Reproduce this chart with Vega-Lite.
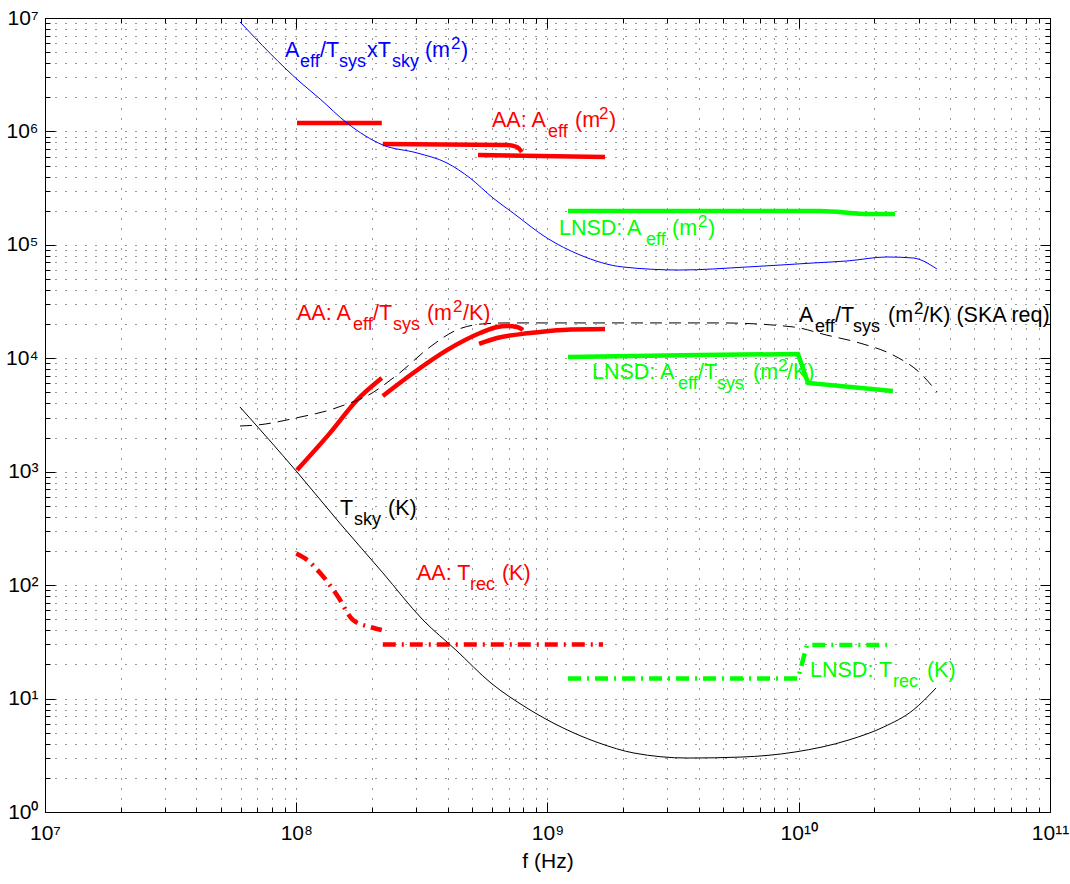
{
  "$schema": "https://vega.github.io/schema/vega-lite/v6.json",
  "width": 1005,
  "height": 794,
  "autosize": {"type": "none"},
  "padding": {"left": 45, "top": 18, "right": 20, "bottom": 72},
  "background": "white",
  "config": {"view": {"stroke": "black", "strokeWidth": 1}, "font": "Liberation Sans"},
  "datasets": {
    "lines": [
      {"curve": "Aeff/Tsys×Tsky", "seg": "b", "f": 5.97e7, "v": 9.23e6},
      {"curve": "Aeff/Tsys×Tsky", "seg": "b", "f": 1.035e8, "v": 2.73e6},
      {"curve": "Aeff/Tsys×Tsky", "seg": "b", "f": 1.245e8, "v": 1.93e6},
      {"curve": "Aeff/Tsys×Tsky", "seg": "b", "f": 1.592e8, "v": 1.186e6},
      {"curve": "Aeff/Tsys×Tsky", "seg": "b", "f": 2.213e8, "v": 7.59e5},
      {"curve": "Aeff/Tsys×Tsky", "seg": "b", "f": 3.027e8, "v": 6.46e5},
      {"curve": "Aeff/Tsys×Tsky", "seg": "b", "f": 3.981e8, "v": 5.27e5},
      {"curve": "Aeff/Tsys×Tsky", "seg": "b", "f": 4.92e8, "v": 3.88e5},
      {"curve": "Aeff/Tsys×Tsky", "seg": "b", "f": 6.067e8, "v": 2.59e5},
      {"curve": "Aeff/Tsys×Tsky", "seg": "b", "f": 7.295e8, "v": 1.91e5},
      {"curve": "Aeff/Tsys×Tsky", "seg": "b", "f": 9.954e8, "v": 1.148e5},
      {"curve": "Aeff/Tsys×Tsky", "seg": "b", "f": 1.346e9, "v": 8.15e4},
      {"curve": "Aeff/Tsys×Tsky", "seg": "b", "f": 1.995e9, "v": 6.38e4},
      {"curve": "Aeff/Tsys×Tsky", "seg": "b", "f": 3.365e9, "v": 6.0e4},
      {"curve": "Aeff/Tsys×Tsky", "seg": "b", "f": 6.223e9, "v": 6.38e4},
      {"curve": "Aeff/Tsys×Tsky", "seg": "b", "f": 1.14e10, "v": 6.92e4},
      {"curve": "Aeff/Tsys×Tsky", "seg": "b", "f": 1.556e10, "v": 7.21e4},
      {"curve": "Aeff/Tsys×Tsky", "seg": "b", "f": 2.244e10, "v": 7.82e4},
      {"curve": "Aeff/Tsys×Tsky", "seg": "b", "f": 2.851e10, "v": 7.66e4},
      {"curve": "Aeff/Tsys×Tsky", "seg": "b", "f": 3.548e10, "v": 6.12e4},

      {"curve": "Tsky", "seg": "t", "f": 5.97e7, "v": 3720},
      {"curve": "Tsky", "seg": "t", "f": 1.007e8, "v": 995},
      {"curve": "Tsky", "seg": "t", "f": 1.5e8, "v": 346},
      {"curve": "Tsky", "seg": "t", "f": 2.2e8, "v": 130},
      {"curve": "Tsky", "seg": "t", "f": 3.195e8, "v": 49.3},
      {"curve": "Tsky", "seg": "t", "f": 4.32e8, "v": 26.8},
      {"curve": "Tsky", "seg": "t", "f": 5.96e8, "v": 13.7},
      {"curve": "Tsky", "seg": "t", "f": 8.28e8, "v": 8.26},
      {"curve": "Tsky", "seg": "t", "f": 1.153e9, "v": 5.51},
      {"curve": "Tsky", "seg": "t", "f": 1.603e9, "v": 4.06},
      {"curve": "Tsky", "seg": "t", "f": 2.21e9, "v": 3.31},
      {"curve": "Tsky", "seg": "t", "f": 3.62e9, "v": 2.99},
      {"curve": "Tsky", "seg": "t", "f": 5.89e9, "v": 3.05},
      {"curve": "Tsky", "seg": "t", "f": 9.66e9, "v": 3.38},
      {"curve": "Tsky", "seg": "t", "f": 1.585e10, "v": 4.32},
      {"curve": "Tsky", "seg": "t", "f": 2.18e10, "v": 5.62},
      {"curve": "Tsky", "seg": "t", "f": 2.85e10, "v": 7.9},
      {"curve": "Tsky", "seg": "t", "f": 3.52e10, "v": 12.4},

      {"curve": "SKA", "seg": "s", "f": 5.97e7, "v": 2530},
      {"curve": "SKA", "seg": "s", "f": 6.98e7, "v": 2580},
      {"curve": "SKA", "seg": "s", "f": 1.035e8, "v": 3030},
      {"curve": "SKA", "seg": "s", "f": 1.36e8, "v": 3500},
      {"curve": "SKA", "seg": "s", "f": 1.636e8, "v": 4040},
      {"curve": "SKA", "seg": "s", "f": 1.845e8, "v": 4470},
      {"curve": "SKA", "seg": "s", "f": 2.52e8, "v": 7130},
      {"curve": "SKA", "seg": "s", "f": 3.41e8, "v": 12600},
      {"curve": "SKA", "seg": "s", "f": 4.36e8, "v": 17800},
      {"curve": "SKA", "seg": "s", "f": 5.53e8, "v": 20100},
      {"curve": "SKA", "seg": "s", "f": 6.9e8, "v": 20500},
      {"curve": "SKA", "seg": "s", "f": 4.86e9, "v": 20500},
      {"curve": "SKA", "seg": "s", "f": 9.49e9, "v": 18900},
      {"curve": "SKA", "seg": "s", "f": 1.294e10, "v": 16000},
      {"curve": "SKA", "seg": "s", "f": 1.754e10, "v": 13600},
      {"curve": "SKA", "seg": "s", "f": 2.37e10, "v": 10700},
      {"curve": "SKA", "seg": "s", "f": 3.04e10, "v": 7420},
      {"curve": "SKA", "seg": "s", "f": 3.55e10, "v": 5050},

      {"curve": "AA Aeff", "seg": "a1", "f": 1.007e8, "v": 1.186e6},
      {"curve": "AA Aeff", "seg": "a1", "f": 2.19e8, "v": 1.186e6},
      {"curve": "AA Aeff", "seg": "a2", "f": 2.21e8, "v": 7.74e5},
      {"curve": "AA Aeff", "seg": "a2", "f": 6.9e8, "v": 7.59e5},
      {"curve": "AA Aeff", "seg": "a2", "f": 7.56e8, "v": 7.29e5},
      {"curve": "AA Aeff", "seg": "a2", "f": 7.9e8, "v": 6.59e5},
      {"curve": "AA Aeff", "seg": "a3", "f": 5.29e8, "v": 6.2e5},
      {"curve": "AA Aeff", "seg": "a3", "f": 1.694e9, "v": 5.96e5},

      {"curve": "LNSD Aeff", "seg": "l1", "f": 1.207e9, "v": 1.99e5},
      {"curve": "LNSD Aeff", "seg": "l1", "f": 1.216e10, "v": 1.99e5},
      {"curve": "LNSD Aeff", "seg": "l1", "f": 1.92e10, "v": 1.87e5},
      {"curve": "LNSD Aeff", "seg": "l1", "f": 2.415e10, "v": 1.87e5},

      {"curve": "AA Aeff/Tsys", "seg": "b1", "f": 1.007e8, "v": 1035},
      {"curve": "AA Aeff/Tsys", "seg": "b1", "f": 1.361e8, "v": 2190},
      {"curve": "AA Aeff/Tsys", "seg": "b1", "f": 1.746e8, "v": 4290},
      {"curve": "AA Aeff/Tsys", "seg": "b1", "f": 2.19e8, "v": 6700},
      {"curve": "AA Aeff/Tsys", "seg": "b2", "f": 2.21e8, "v": 4650},
      {"curve": "AA Aeff/Tsys", "seg": "b2", "f": 2.92e8, "v": 7420},
      {"curve": "AA Aeff/Tsys", "seg": "b2", "f": 3.98e8, "v": 11800},
      {"curve": "AA Aeff/Tsys", "seg": "b2", "f": 5.39e8, "v": 16700},
      {"curve": "AA Aeff/Tsys", "seg": "b2", "f": 6.3e8, "v": 18900},
      {"curve": "AA Aeff/Tsys", "seg": "b2", "f": 6.9e8, "v": 19300},
      {"curve": "AA Aeff/Tsys", "seg": "b2", "f": 7.56e8, "v": 18900},
      {"curve": "AA Aeff/Tsys", "seg": "b2", "f": 7.98e8, "v": 17800},
      {"curve": "AA Aeff/Tsys", "seg": "b3", "f": 5.34e8, "v": 13400},
      {"curve": "AA Aeff/Tsys", "seg": "b3", "f": 6.3e8, "v": 15100},
      {"curve": "AA Aeff/Tsys", "seg": "b3", "f": 8.51e8, "v": 16700},
      {"curve": "AA Aeff/Tsys", "seg": "b3", "f": 1.153e9, "v": 17800},
      {"curve": "AA Aeff/Tsys", "seg": "b3", "f": 1.694e9, "v": 18100},

      {"curve": "LNSD Aeff/Tsys", "seg": "m1", "f": 1.207e9, "v": 10260},
      {"curve": "LNSD Aeff/Tsys", "seg": "m1", "f": 4.05e9, "v": 10700},
      {"curve": "LNSD Aeff/Tsys", "seg": "m1", "f": 9.93e9, "v": 10900},
      {"curve": "LNSD Aeff/Tsys", "seg": "m1", "f": 1.089e10, "v": 6060},
      {"curve": "LNSD Aeff/Tsys", "seg": "m1", "f": 2.37e10, "v": 5150},

      {"curve": "AA Trec", "seg": "r1", "f": 1.0e8, "v": 190},
      {"curve": "AA Trec", "seg": "r1", "f": 1.104e8, "v": 167},
      {"curve": "AA Trec", "seg": "r1", "f": 1.245e8, "v": 128},
      {"curve": "AA Trec", "seg": "r1", "f": 1.452e8, "v": 81.9},
      {"curve": "AA Trec", "seg": "r1", "f": 1.683e8, "v": 49.3},
      {"curve": "AA Trec", "seg": "r1", "f": 1.966e8, "v": 42.8},
      {"curve": "AA Trec", "seg": "r1", "f": 2.19e8, "v": 40.2},
      {"curve": "AA Trec", "seg": "r2", "f": 2.21e8, "v": 30},
      {"curve": "AA Trec", "seg": "r2", "f": 1.663e9, "v": 30},

      {"curve": "LNSD Trec", "seg": "n1", "f": 1.207e9, "v": 15},
      {"curve": "LNSD Trec", "seg": "n1", "f": 9.93e9, "v": 15},
      {"curve": "LNSD Trec", "seg": "n1", "f": 1.078e10, "v": 29.6},
      {"curve": "LNSD Trec", "seg": "n1", "f": 2.244e10, "v": 29.6}
    ],
    "labels": [
      {"curve": "Aeff/Tsys×Tsky", "part": "main", "f": 9.02e7, "v": 4.53e6, "t": "A"},
      {"curve": "Aeff/Tsys×Tsky", "part": "sub", "f": 1.035e8, "v": 4.53e6, "t": "eff"},
      {"curve": "Aeff/Tsys×Tsky", "part": "main", "f": 1.243e8, "v": 4.53e6, "t": "/T"},
      {"curve": "Aeff/Tsys×Tsky", "part": "sub", "f": 1.48e8, "v": 4.53e6, "t": "sys"},
      {"curve": "Aeff/Tsys×Tsky", "part": "main", "f": 1.912e8, "v": 4.53e6, "t": "xT"},
      {"curve": "Aeff/Tsys×Tsky", "part": "sub", "f": 2.405e8, "v": 4.53e6, "t": "sky"},
      {"curve": "Aeff/Tsys×Tsky", "part": "main", "f": 3.253e8, "v": 4.53e6, "t": "(m"},
      {"curve": "Aeff/Tsys×Tsky", "part": "sup", "f": 4.129e8, "v": 4.53e6, "t": "2"},
      {"curve": "Aeff/Tsys×Tsky", "part": "main", "f": 4.527e8, "v": 4.53e6, "t": ")"},

      {"curve": "AA Aeff", "part": "main", "f": 6.015e8, "v": 1.094e6, "t": "AA: A"},
      {"curve": "AA Aeff", "part": "sub", "f": 1.005e9, "v": 1.094e6, "t": "eff"},
      {"curve": "AA Aeff", "part": "main", "f": 1.287e9, "v": 1.094e6, "t": "(m"},
      {"curve": "AA Aeff", "part": "sup", "f": 1.603e9, "v": 1.094e6, "t": "2"},
      {"curve": "AA Aeff", "part": "main", "f": 1.757e9, "v": 1.094e6, "t": ")"},

      {"curve": "LNSD Aeff", "part": "main", "f": 1.111e9, "v": 1.222e5, "t": "LNSD: A"},
      {"curve": "LNSD Aeff", "part": "sub", "f": 2.466e9, "v": 1.222e5, "t": "eff"},
      {"curve": "LNSD Aeff", "part": "main", "f": 3.13e9, "v": 1.222e5, "t": "(m"},
      {"curve": "LNSD Aeff", "part": "sup", "f": 3.972e9, "v": 1.222e5, "t": "2"},
      {"curve": "LNSD Aeff", "part": "main", "f": 4.354e9, "v": 1.222e5, "t": ")"},

      {"curve": "AA Aeff/Tsys", "part": "main", "f": 1.007e8, "v": 21760, "t": "AA: A"},
      {"curve": "AA Aeff/Tsys", "part": "sub", "f": 1.682e8, "v": 21760, "t": "eff"},
      {"curve": "AA Aeff/Tsys", "part": "main", "f": 2.021e8, "v": 21760, "t": "/T"},
      {"curve": "AA Aeff/Tsys", "part": "sub", "f": 2.428e8, "v": 21760, "t": "sys"},
      {"curve": "AA Aeff/Tsys", "part": "main", "f": 3.313e8, "v": 21760, "t": "(m"},
      {"curve": "AA Aeff/Tsys", "part": "sup", "f": 4.206e8, "v": 21760, "t": "2"},
      {"curve": "AA Aeff/Tsys", "part": "main", "f": 4.61e8, "v": 21760, "t": "/K)"},

      {"curve": "SKA", "part": "main", "f": 1.002e10, "v": 20890, "t": "A"},
      {"curve": "SKA", "part": "sub", "f": 1.16e10, "v": 20890, "t": "eff"},
      {"curve": "SKA", "part": "main", "f": 1.394e10, "v": 20890, "t": "/T"},
      {"curve": "SKA", "part": "sub", "f": 1.644e10, "v": 20890, "t": "sys"},
      {"curve": "SKA", "part": "main", "f": 2.266e10, "v": 20890, "t": "(m"},
      {"curve": "SKA", "part": "sup", "f": 2.875e10, "v": 20890, "t": "2"},
      {"curve": "SKA", "part": "main", "f": 3.123e10, "v": 20890, "t": "/K) (SKA req)"},

      {"curve": "LNSD Aeff/Tsys", "part": "main", "f": 1.503e9, "v": 6568, "t": "LNSD: A"},
      {"curve": "LNSD Aeff/Tsys", "part": "sub", "f": 3.307e9, "v": 6568, "t": "eff"},
      {"curve": "LNSD Aeff/Tsys", "part": "main", "f": 3.972e9, "v": 6568, "t": "/T"},
      {"curve": "LNSD Aeff/Tsys", "part": "sub", "f": 4.727e9, "v": 6568, "t": "sys"},
      {"curve": "LNSD Aeff/Tsys", "part": "main", "f": 6.574e9, "v": 6568, "t": "(m"},
      {"curve": "LNSD Aeff/Tsys", "part": "sup", "f": 8.268e9, "v": 6568, "t": "2"},
      {"curve": "LNSD Aeff/Tsys", "part": "main", "f": 8.98e9, "v": 6568, "t": "/K)"},

      {"curve": "Tsky", "part": "main", "f": 1.494e8, "v": 415, "t": "T"},
      {"curve": "Tsky", "part": "sub", "f": 1.698e8, "v": 415, "t": "sky"},
      {"curve": "Tsky", "part": "main", "f": 2.319e8, "v": 415, "t": "(K)"},

      {"curve": "AA Trec", "part": "main", "f": 3.024e8, "v": 111, "t": "AA: T"},
      {"curve": "AA Trec", "part": "sub", "f": 4.914e8, "v": 111, "t": "rec"},
      {"curve": "AA Trec", "part": "main", "f": 6.588e8, "v": 111, "t": "(K)"},

      {"curve": "LNSD Trec", "part": "main", "f": 1.109e10, "v": 15.5, "t": "LNSD: T"},
      {"curve": "LNSD Trec", "part": "sub", "f": 2.372e10, "v": 15.5, "t": "rec"},
      {"curve": "LNSD Trec", "part": "main", "f": 3.238e10, "v": 15.5, "t": "(K)"}
    ]
  },
  "layer": [
    {
      "encoding": {
        "x": {
          "field": "f", "type": "quantitative",
          "scale": {"type": "log", "domain": [1e7, 1e11], "nice": false},
          "axis": {
            "orient": "bottom",
            "values": [1e7,2e7,3e7,4e7,5e7,6e7,7e7,8e7,9e7,1e8,2e8,3e8,4e8,5e8,6e8,7e8,8e8,9e8,1e9,2e9,3e9,4e9,5e9,6e9,7e9,8e9,9e9,1e10,2e10,3e10,4e10,5e10,6e10,7e10,8e10,9e10,1e11],
            "labelExpr": "abs(log(datum.value)/LN10 - round(log(datum.value)/LN10)) < 0.001 ? '10' + ['⁰','¹','²','³','⁴','⁵','⁶','⁷','⁸','⁹','¹⁰','¹¹'][round(log(datum.value)/LN10)] : ''",
            "labelFontSize": 21, "labelColor": "black", "labelFont": "Liberation Sans",
            "labelPadding": 10, "labelOverlap": false, "labelFlush": false, "labelBound": false,
            "ticks": false, "domain": false,
            "grid": true, "gridDash": [1, 9], "gridColor": "#000000", "gridOpacity": 0.8, "gridWidth": 1,
            "title": "f (Hz)", "titleFontSize": 21, "titleFontWeight": "normal", "titleColor": "black",
            "titleFont": "Liberation Sans", "titleY": 55, "titleBaseline": "alphabetic"
          }
        },
        "y": {
          "field": "v", "type": "quantitative",
          "scale": {"type": "log", "domain": [1, 1e7], "nice": false},
          "axis": {
            "orient": "left",
            "values": [1,2,3,4,5,6,7,8,9,10,20,30,40,50,60,70,80,90,100,200,300,400,500,600,700,800,900,1e3,2e3,3e3,4e3,5e3,6e3,7e3,8e3,9e3,1e4,2e4,3e4,4e4,5e4,6e4,7e4,8e4,9e4,1e5,2e5,3e5,4e5,5e5,6e5,7e5,8e5,9e5,1e6,2e6,3e6,4e6,5e6,6e6,7e6,8e6,9e6,1e7],
            "labelExpr": "abs(log(datum.value)/LN10 - round(log(datum.value)/LN10)) < 0.001 ? '10' + ['⁰','¹','²','³','⁴','⁵','⁶','⁷','⁸','⁹','¹⁰','¹¹'][round(log(datum.value)/LN10)] : ''",
            "labelFontSize": 21, "labelColor": "black", "labelFont": "Liberation Sans",
            "labelPadding": 7, "labelOverlap": false, "labelFlush": false, "labelBound": false,
            "ticks": false, "domain": false,
            "grid": true, "gridDash": [1, 9], "gridColor": "#000000", "gridOpacity": 0.8, "gridWidth": 1,
            "title": null
          }
        },
        "color": {
          "field": "curve", "type": "nominal", "legend": null,
          "scale": {
            "domain": ["Aeff/Tsys×Tsky", "Tsky", "SKA", "AA Aeff", "AA Aeff/Tsys", "AA Trec", "LNSD Aeff", "LNSD Aeff/Tsys", "LNSD Trec"],
            "range": ["#0000ff", "#000000", "#000000", "#ff0000", "#ff0000", "#ff0000", "#00ff00", "#00ff00", "#00ff00"]
          }
        }
      },
      "layer": [
        {
          "data": {"name": "lines"},
          "transform": [{"filter": {"field": "curve", "oneOf": ["AA Aeff", "AA Aeff/Tsys", "LNSD Aeff"]}}],
          "mark": {"type": "line", "strokeWidth": 4.5, "strokeCap": "butt", "interpolate": "monotone"},
          "encoding": {"detail": {"field": "seg"}}
        },
        {
          "data": {"name": "lines"},
          "transform": [{"filter": {"field": "curve", "equal": "LNSD Aeff/Tsys"}}],
          "mark": {"type": "line", "strokeWidth": 4.5, "strokeCap": "butt"},
          "encoding": {"detail": {"field": "seg"}}
        },
        {
          "data": {"name": "lines"},
          "transform": [{"filter": {"field": "curve", "equal": "AA Trec"}}],
          "mark": {"type": "line", "strokeWidth": 4.5, "strokeDash": [13, 6, 2, 6], "strokeCap": "butt", "interpolate": "monotone"},
          "encoding": {"detail": {"field": "seg"}}
        },
        {
          "data": {"name": "lines"},
          "transform": [{"filter": {"field": "curve", "equal": "LNSD Trec"}}],
          "mark": {"type": "line", "strokeWidth": 4.5, "strokeDash": [13, 6, 2, 6], "strokeCap": "butt"},
          "encoding": {"detail": {"field": "seg"}}
        },
        {
          "data": {"name": "lines"},
          "transform": [{"filter": {"field": "curve", "oneOf": ["Aeff/Tsys×Tsky", "Tsky"]}}],
          "mark": {"type": "line", "strokeWidth": 1, "interpolate": "monotone"},
          "encoding": {"detail": {"field": "seg"}}
        },
        {
          "data": {"name": "lines"},
          "transform": [{"filter": {"field": "curve", "equal": "SKA"}}],
          "mark": {"type": "line", "strokeWidth": 1, "strokeDash": [12, 7], "interpolate": "monotone"},
          "encoding": {"detail": {"field": "seg"}}
        },
        {
          "data": {"name": "labels"},
          "transform": [{"filter": {"field": "part", "equal": "main"}}],
          "mark": {"type": "text", "align": "left", "baseline": "alphabetic", "fontSize": 21.5, "font": "Liberation Sans"},
          "encoding": {"text": {"field": "t"}}
        },
        {
          "data": {"name": "labels"},
          "transform": [{"filter": {"field": "part", "equal": "sub"}}],
          "mark": {"type": "text", "align": "left", "baseline": "alphabetic", "fontSize": 18, "dy": 10, "font": "Liberation Sans"},
          "encoding": {"text": {"field": "t"}}
        },
        {
          "data": {"name": "labels"},
          "transform": [{"filter": {"field": "part", "equal": "sup"}}],
          "mark": {"type": "text", "align": "left", "baseline": "alphabetic", "fontSize": 17, "dy": -8, "font": "Liberation Sans"},
          "encoding": {"text": {"field": "t"}}
        }
      ]
    },
    {
      "data": {"name": "lines"},
      "mark": {"type": "point", "opacity": 0},
      "encoding": {
        "x": {
          "field": "f", "type": "quantitative",
          "scale": {"type": "log", "domain": [1e7, 1e11], "nice": false},
          "axis": {
            "orient": "bottom",
            "values": [1e7,2e7,3e7,4e7,5e7,6e7,7e7,8e7,9e7,1e8,2e8,3e8,4e8,5e8,6e8,7e8,8e8,9e8,1e9,2e9,3e9,4e9,5e9,6e9,7e9,8e9,9e9,1e10,2e10,3e10,4e10,5e10,6e10,7e10,8e10,9e10,1e11],
            "labels": false, "grid": false, "domain": false, "ticks": true,
            "tickColor": "black", "tickWidth": 1,
            "tickSize": {"condition": {"test": "abs(log(datum.value)/LN10 - round(log(datum.value)/LN10)) < 0.001", "value": -10}, "value": -5},
            "title": null
          }
        },
        "y": {
          "field": "v", "type": "quantitative",
          "scale": {"type": "log", "domain": [1, 1e7], "nice": false},
          "axis": {
            "orient": "left",
            "values": [1,2,3,4,5,6,7,8,9,10,20,30,40,50,60,70,80,90,100,200,300,400,500,600,700,800,900,1e3,2e3,3e3,4e3,5e3,6e3,7e3,8e3,9e3,1e4,2e4,3e4,4e4,5e4,6e4,7e4,8e4,9e4,1e5,2e5,3e5,4e5,5e5,6e5,7e5,8e5,9e5,1e6,2e6,3e6,4e6,5e6,6e6,7e6,8e6,9e6,1e7],
            "labels": false, "grid": false, "domain": false, "ticks": true,
            "tickColor": "black", "tickWidth": 1,
            "tickSize": {"condition": {"test": "abs(log(datum.value)/LN10 - round(log(datum.value)/LN10)) < 0.001", "value": -10}, "value": -5},
            "title": null
          }
        }
      }
    },
    {
      "data": {"name": "lines"},
      "mark": {"type": "point", "opacity": 0},
      "encoding": {
        "x": {
          "field": "f", "type": "quantitative",
          "scale": {"type": "log", "domain": [1e7, 1e11], "nice": false},
          "axis": {
            "orient": "top",
            "values": [1e7,2e7,3e7,4e7,5e7,6e7,7e7,8e7,9e7,1e8,2e8,3e8,4e8,5e8,6e8,7e8,8e8,9e8,1e9,2e9,3e9,4e9,5e9,6e9,7e9,8e9,9e9,1e10,2e10,3e10,4e10,5e10,6e10,7e10,8e10,9e10,1e11],
            "labels": false, "grid": false, "domain": false, "ticks": true,
            "tickColor": "black", "tickWidth": 1,
            "tickSize": {"condition": {"test": "abs(log(datum.value)/LN10 - round(log(datum.value)/LN10)) < 0.001", "value": -10}, "value": -5},
            "title": null
          }
        },
        "y": {
          "field": "v", "type": "quantitative",
          "scale": {"type": "log", "domain": [1, 1e7], "nice": false},
          "axis": {
            "orient": "right",
            "values": [1,2,3,4,5,6,7,8,9,10,20,30,40,50,60,70,80,90,100,200,300,400,500,600,700,800,900,1e3,2e3,3e3,4e3,5e3,6e3,7e3,8e3,9e3,1e4,2e4,3e4,4e4,5e4,6e4,7e4,8e4,9e4,1e5,2e5,3e5,4e5,5e5,6e5,7e5,8e5,9e5,1e6,2e6,3e6,4e6,5e6,6e6,7e6,8e6,9e6,1e7],
            "labels": false, "grid": false, "domain": false, "ticks": true,
            "tickColor": "black", "tickWidth": 1,
            "tickSize": {"condition": {"test": "abs(log(datum.value)/LN10 - round(log(datum.value)/LN10)) < 0.001", "value": -10}, "value": -5},
            "title": null
          }
        }
      }
    }
  ],
  "resolve": {"axis": {"x": "independent", "y": "independent"}}
}
